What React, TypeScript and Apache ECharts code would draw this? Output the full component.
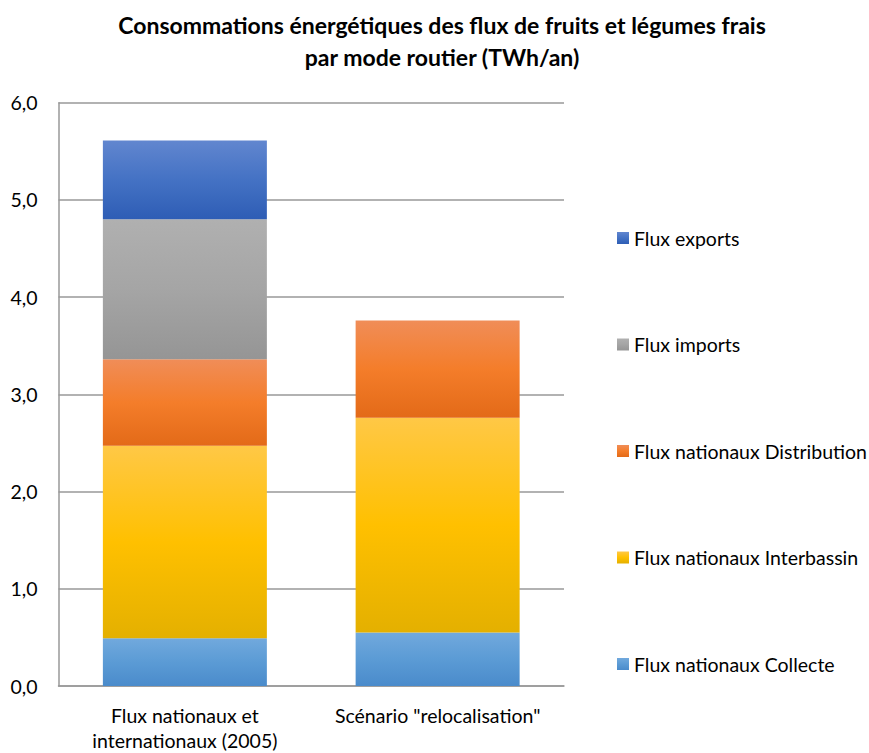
import React, { useEffect, useRef } from "react";
import * as echarts from "echarts";

const TITLE = "Consommations énergétiques des flux de fruits et légumes frais\npar mode routier (TWh/an)";
const categories = ["Flux nationaux et\ninternationaux (2005)", 'Scénario "relocalisation"'];
const seriesNames = [
  "Flux nationaux Collecte",
  "Flux nationaux Interbassin",
  "Flux nationaux Distribution",
  "Flux imports",
  "Flux exports",
];
const collecte = [0.49, 0.55];
const interbassin = [1.98, 2.21];
const distribution = [0.89, 1.0];
const imports = [1.44, 0];
const exportsFlux = [0.81, 0];
const yTicks = { min: 0, max: 6, interval: 1 };

const grad = (a: string, b: string, c: string) =>
  new echarts.graphic.LinearGradient(0, 0, 0, 1, [
    { offset: 0, color: a },
    { offset: 0.5, color: b },
    { offset: 1, color: c },
  ]);

export default function App() {
  const ref = useRef<HTMLDivElement>(null);
  useEffect(() => {
    if (!ref.current) return;
    const chart = echarts.init(ref.current, null, { renderer: "svg" });
    const fills = [
      grad("#71a9dd", "#5b9bd5", "#4a8bcb"),
      grad("#ffc846", "#ffc000", "#e4b000"),
      grad("#f08d58", "#f47d2a", "#e36a18"),
      grad("#b0b0b0", "#a5a5a5", "#959595"),
      grad("#6186cf", "#4472c4", "#2e5db5"),
    ];
    const values = [collecte, interbassin, distribution, imports, exportsFlux];
    const font = "Lato, 'Open Sans', sans-serif";
    chart.setOption({
      animation: false,
      textStyle: { fontFamily: font },
      title: {
        text: TITLE,
        left: 442,
        textAlign: "center",
        top: 9,
        padding: 0,
        textStyle: { fontSize: 23, fontWeight: "bold", color: "#000", lineHeight: 32, fontFamily: font },
      },
      grid: { left: 58.5, right: 305, top: 102.7, bottom: 63.7 },
      legend: {
        orient: "vertical",
        left: 617,
        top: 228,
        padding: 0,
        itemWidth: 12,
        itemHeight: 12,
        itemGap: 86.5,
        icon: "rect",
        data: [...seriesNames].reverse(),
        textStyle: { fontSize: 19.5, color: "#000", lineHeight: 20, fontFamily: font },
      },
      xAxis: {
        type: "category",
        data: categories,
        axisLine: { show: true, lineStyle: { color: "#999", width: 1.5 } },
        axisTick: { show: false },
        axisLabel: { fontSize: 19.5, color: "#000", lineHeight: 25, margin: 17, interval: 0, fontFamily: font },
      },
      yAxis: {
        type: "value",
        min: yTicks.min,
        max: yTicks.max,
        interval: yTicks.interval,
        axisLine: { show: true, lineStyle: { color: "#999", width: 1.5 } },
        axisTick: { show: false },
        splitLine: { lineStyle: { color: "#999", width: 1.5 } },
        axisLabel: {
          fontSize: 19.5,
          color: "#000",
          margin: 21,
          fontFamily: font,
          formatter: (v: number) => v.toFixed(1).replace(".", ","),
        },
      },
      series: seriesNames.map((name, i) => ({
        name,
        type: "bar",
        stack: "total",
        barWidth: 164,
        data: values[i],
        itemStyle: { color: fills[i] },
      })),
    });
    return () => chart.dispose();
  }, []);
  return <div ref={ref} style={{ width: 869, height: 753, position: "absolute", left: 0, top: 0 }} />;
}
